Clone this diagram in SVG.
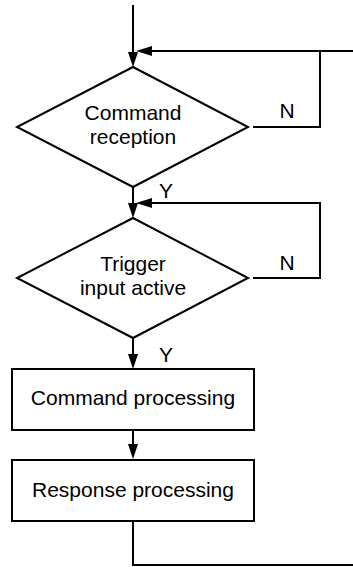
<svg xmlns="http://www.w3.org/2000/svg" width="353" height="567" viewBox="0 0 353 567">
<style>
.s{fill:#fff;stroke:#000;stroke-width:2;stroke-linejoin:miter}
.c{fill:none;stroke:#000;stroke-width:2}
.t{font-family:"Liberation Sans",Arial,sans-serif;font-size:21px;fill:#000;text-anchor:middle}
.a{fill:#000;stroke:none}
</style>
<rect width="353" height="567" fill="#fff"/>
<g id="connectors">
<path class="c" d="M133 5V54"/>
<path class="c" d="M133 187V204"/>
<path class="c" d="M133 338V355"/>
<path class="c" d="M133 430V445"/>
<path class="c" d="M133 521V565H353"/>
<path class="c" d="M353 51H150"/>
<path class="c" d="M253 127H320V51"/>
<path class="c" d="M253 278H320V203H150"/>
<polygon class="a" points="128,52 138,52 133,67"/>
<polygon class="a" points="128,203 138,203 133,218"/>
<polygon class="a" points="128,354 138,354 133,369"/>
<polygon class="a" points="128,444 138,444 133,459"/>
<polygon class="a" points="136,51 152,46 152,56"/>
<polygon class="a" points="136,203 152,198 152,208"/>
<text class="t" x="287" y="118">N</text>
<text class="t" x="287" y="270">N</text>
<text class="t" x="166" y="198">Y</text>
<text class="t" x="166" y="362">Y</text>
</g>
<g id="cmd-reception">
<polygon class="s" points="133,67 248,127 133,187 17,127"/>
<text class="t" x="133" y="120">Command</text>
<text class="t" x="133" y="144">reception</text>
</g>
<g id="trigger">
<polygon class="s" points="133,218 248,278 133,338 17,278"/>
<text class="t" x="133" y="271">Trigger</text>
<text class="t" x="133" y="295">input active</text>
</g>
<g id="cmd-processing">
<rect class="s" x="12" y="369" width="242" height="61"/>
<text class="t" x="133" y="405">Command processing</text>
</g>
<g id="resp-processing">
<rect class="s" x="12" y="460" width="242" height="61"/>
<text class="t" x="133" y="497">Response processing</text>
</g>
</svg>
